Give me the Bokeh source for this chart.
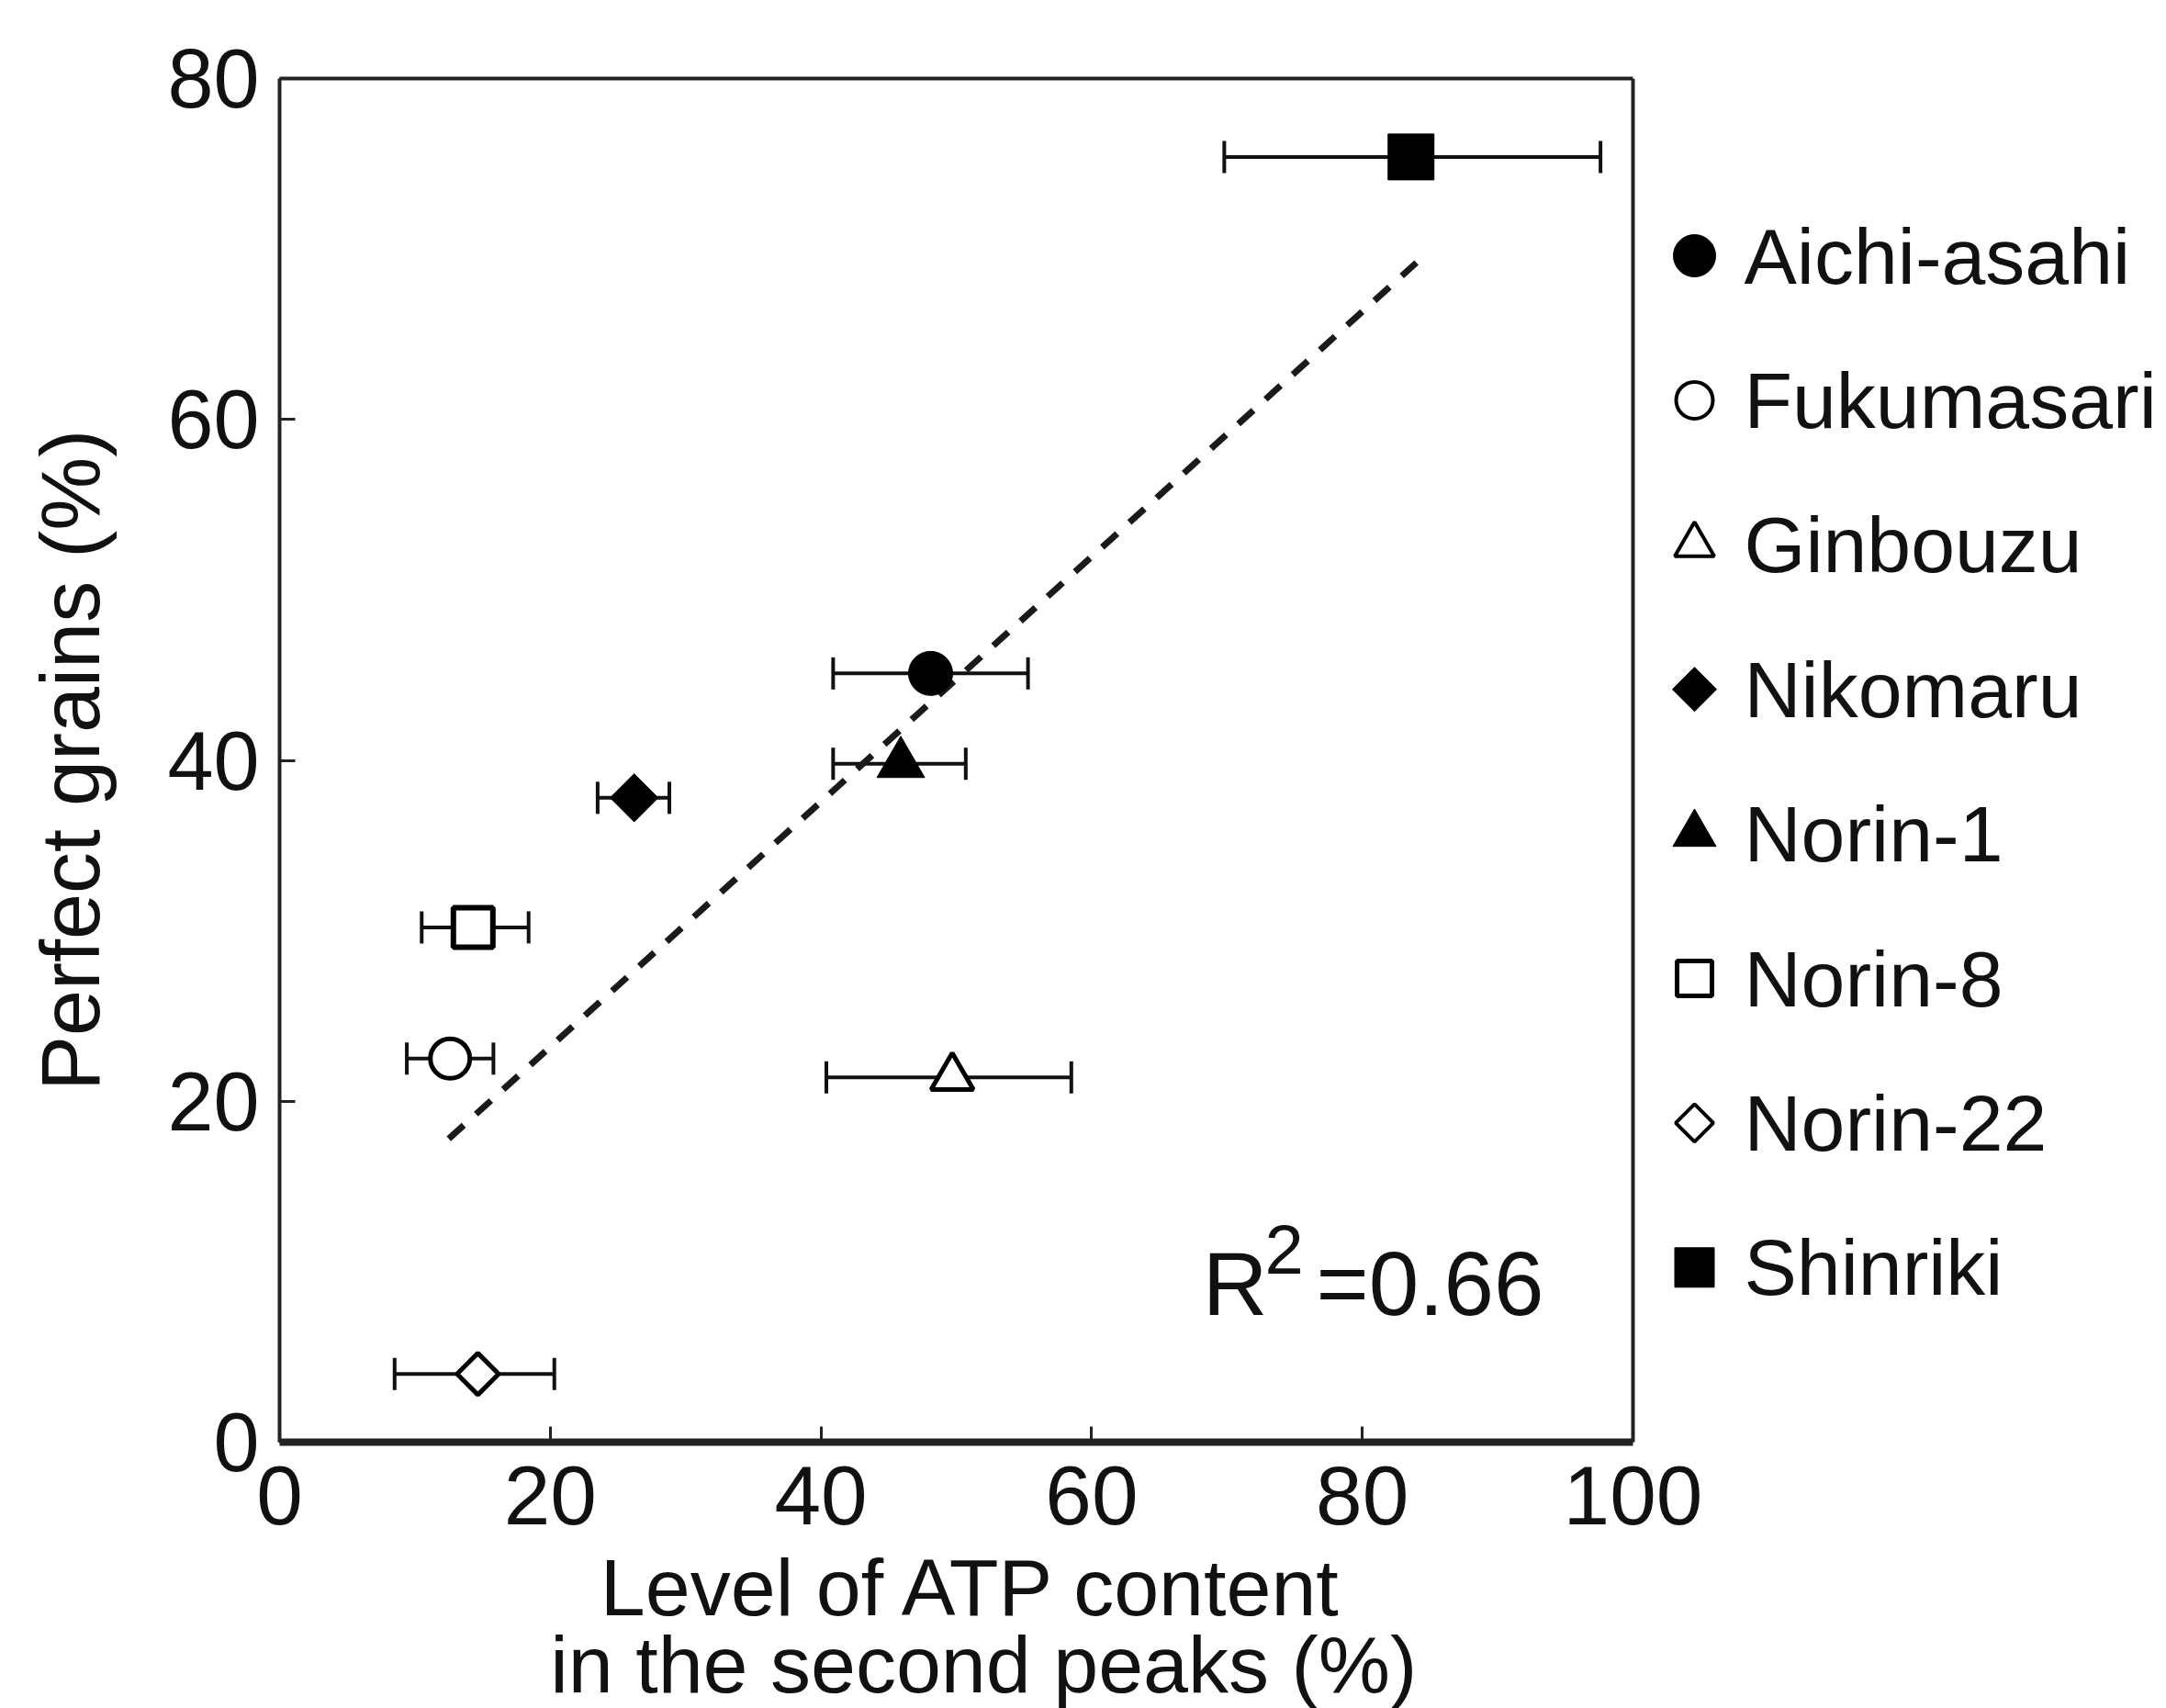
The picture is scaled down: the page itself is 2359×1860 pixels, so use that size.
from bokeh.plotting import figure
from bokeh.models import (ColumnDataSource, Range1d, Whisker, TeeHead, Label,
                          FixedTicker, LinearAxis, Span)
from bokeh.core.properties import value
from bokeh.embed import file_html
from bokeh.resources import INLINE
import math

# ---- data ----
names = ["Aichi-asahi", "Fukumasari", "Ginbouzu", "Nikomaru",
         "Norin-1", "Norin-8", "Norin-22", "Shinriki"]
atp = [48.1, 12.6, 49.7, 26.2, 45.9, 14.3, 14.65, 83.6]          # x, %
grains = [45.1, 22.5, 21.4, 37.8, 39.8, 30.2, 4.0, 75.4]         # y, %
atp_lo = [40.9, 9.4, 40.4, 23.5, 40.9, 10.5, 8.5, 69.8]          # x error low
atp_hi = [55.3, 15.8, 58.5, 28.8, 50.7, 18.4, 20.3, 97.6]        # x error high
reg_x = [12.5, 84.0]
reg_y = [17.8, 69.2]
r2_text = "0.66"
x_ticks = [0, 20, 40, 60, 80, 100]
y_ticks = [0, 20, 40, 60, 80]
x_title = ["Level of ATP content", "in the second peaks (%)"]
y_title = "Perfect grains (%)"

# ---- layout / styles ----
BOX_W, BOX_H = 1474, 1485          # plotting box in pixels
LEFT, TOP, RIGHT = 304, 85, 8
FRAME_W = 2351 - LEFT              # frame also holds the legend to the right of the box
X_MAX = 100.0                      # axis range of the box
X_VIEW = X_MAX * FRAME_W / BOX_W
XT_SIZE = 88                       # x title font size (px)

style = {
    "Aichi-asahi": dict(marker="circle", size=48, fill="black", lw=1, angle=0),
    "Fukumasari":  dict(marker="circle", size=43, fill="white", lw=5, angle=0),
    "Ginbouzu":    dict(marker="triangle", size=46, fill="white", lw=5, angle=0),
    "Nikomaru":    dict(marker="square", size=37, fill="black", lw=1, angle=math.pi / 4),
    "Norin-1":     dict(marker="triangle", size=52, fill="black", lw=1, angle=0),
    "Norin-8":     dict(marker="square", size=43, fill="white", lw=6, angle=0),
    "Norin-22":    dict(marker="square", size=32, fill="white", lw=5, angle=math.pi / 4),
    "Shinriki":    dict(marker="square", size=50, fill="black", lw=1, angle=0),
}
leg_style = {
    "Aichi-asahi": dict(size=46, lw=1),
    "Fukumasari":  dict(size=40, lw=4),
    "Ginbouzu":    dict(size=43, lw=4),
    "Nikomaru":    dict(size=34, lw=1),
    "Norin-1":     dict(size=47, lw=1),
    "Norin-8":     dict(size=38, lw=5),
    "Norin-22":    dict(size=29, lw=4),
    "Shinriki":    dict(size=43, lw=1),
}

FONT = "Liberation Sans"
INK = "#111111"
SPINE = "#222222"

p = figure(frame_width=FRAME_W, frame_height=BOX_H, output_backend="svg",
           toolbar_location=None,
           x_range=Range1d(0, X_VIEW), y_range=Range1d(0, 80),
           min_border_left=LEFT, min_border_right=RIGHT,
           min_border_top=TOP, min_border_bottom=150)
p.grid.visible = False
p.outline_line_color = None
p.background_fill_color = "white"

# axes
p.xaxis.ticker = FixedTicker(ticks=x_ticks)
p.yaxis.ticker = FixedTicker(ticks=y_ticks)
p.xaxis.bounds = (0, X_MAX)
for ax in (p.xaxis[0], p.yaxis[0]):
    ax.major_tick_in = 17
    ax.major_tick_out = 0
    ax.minor_tick_in = 0
    ax.minor_tick_out = 0
    ax.major_tick_line_width = 3
    ax.major_tick_line_color = SPINE
    ax.axis_line_color = SPINE
    ax.major_label_text_font = FONT
    ax.major_label_text_color = INK
    ax.axis_label_text_font = FONT
    ax.axis_label_text_font_style = "normal"
    ax.axis_label_text_color = INK
p.xaxis.axis_line_width = 8
p.yaxis.axis_line_width = 4
p.xaxis.major_label_text_font_size = "91px"
p.yaxis.major_label_text_font_size = "90px"
p.xaxis.major_label_standoff = 26
p.yaxis.major_label_standoff = 22
p.yaxis.axis_label = y_title
p.yaxis.axis_label_text_font_size = "90px"
p.yaxis.axis_label_standoff = 52

# x title: the axis label is centred on the whole frame (box + legend strip);
# pad each line on the right with no-break spaces so it sits under the box.
nbsp_w = 0.278 * XT_SIZE
frame_mid = LEFT + FRAME_W / 2
targets = [1058, 1068]
lines = [t + "\u00a0" * round(2 * (frame_mid - c) / nbsp_w)
         for t, c in zip(x_title, targets)]
p.xaxis.axis_label = "\n".join(lines)
p.xaxis.axis_label_text_font_size = f"{XT_SIZE}px"
p.xaxis.axis_label_text_line_height = 0.85
p.xaxis.axis_label_standoff = 16

# top and right edges of the box
top_axis = LinearAxis(bounds=(0, X_MAX), ticker=FixedTicker(ticks=[]),
                      axis_line_width=4, axis_line_color=SPINE,
                      major_tick_line_color=None, minor_tick_line_color=None,
                      major_label_text_font_size="0px")
p.add_layout(top_axis, "above")
p.add_layout(Span(location=X_MAX, dimension="height", line_width=4,
                  line_color=SPINE))

# regression line
p.line(reg_x, reg_y, line_dash="22 18", line_width=7, line_color="#1a1a1a")

# error bars
src_err = ColumnDataSource(dict(y=grains, lo=atp_lo, hi=atp_hi))
wh = Whisker(source=src_err, base="y", lower="lo", upper="hi", dimension="width",
             line_width=4, line_color=INK, level="underlay",
             upper_head=TeeHead(size=35, line_width=4, line_color=INK),
             lower_head=TeeHead(size=35, line_width=4, line_color=INK))
p.add_layout(wh)

# points
for i, n in enumerate(names):
    s = style[n]
    src = ColumnDataSource(dict(x=[atp[i]], y=[grains[i]]))
    p.scatter("x", "y", source=src, marker=s["marker"], size=s["size"],
              angle=s["angle"], fill_color=s["fill"], line_color="black",
              line_width=s["lw"])

# R^2 annotation
p.add_layout(Label(x=68.2, y=9.27, text="R", text_font=FONT, text_font_size="98px",
                   text_color=INK, text_baseline="alphabetic"))
p.add_layout(Label(x=72.8, y=11.3, text="2", text_font=FONT, text_font_size="76px",
                   text_color=INK, text_baseline="alphabetic"))
p.add_layout(Label(x=76.6, y=9.27, text="=" + r2_text, text_font=FONT,
                   text_font_size="98px", text_color=INK, text_baseline="alphabetic"))

# ---- legend to the right of the box ----
px_x = X_MAX / BOX_W          # data units per pixel
px_y = 80.0 / BOX_H
leg_mx = X_MAX + 67 * px_x    # marker column
leg_tx = X_MAX + 121 * px_x   # text column
leg_top = 80.0 - (278 - TOP) * px_y
leg_step = 157.4 * px_y
leg_y = [leg_top - i * leg_step for i in range(len(names))]
for i, n in enumerate(names):
    s = style[n]
    ls = leg_style[n]
    src = ColumnDataSource(dict(x=[leg_mx], y=[leg_y[i]]))
    p.scatter("x", "y", source=src, marker=s["marker"], size=ls["size"],
              angle=s["angle"], fill_color=s["fill"], line_color="black",
              line_width=ls["lw"])
p.text(x=[leg_tx] * len(names), y=leg_y, text=names, text_baseline="middle",
       text_font=value(FONT), text_font_size="86px", text_color=INK)

open("out.html", "w").write(file_html(p, INLINE))
